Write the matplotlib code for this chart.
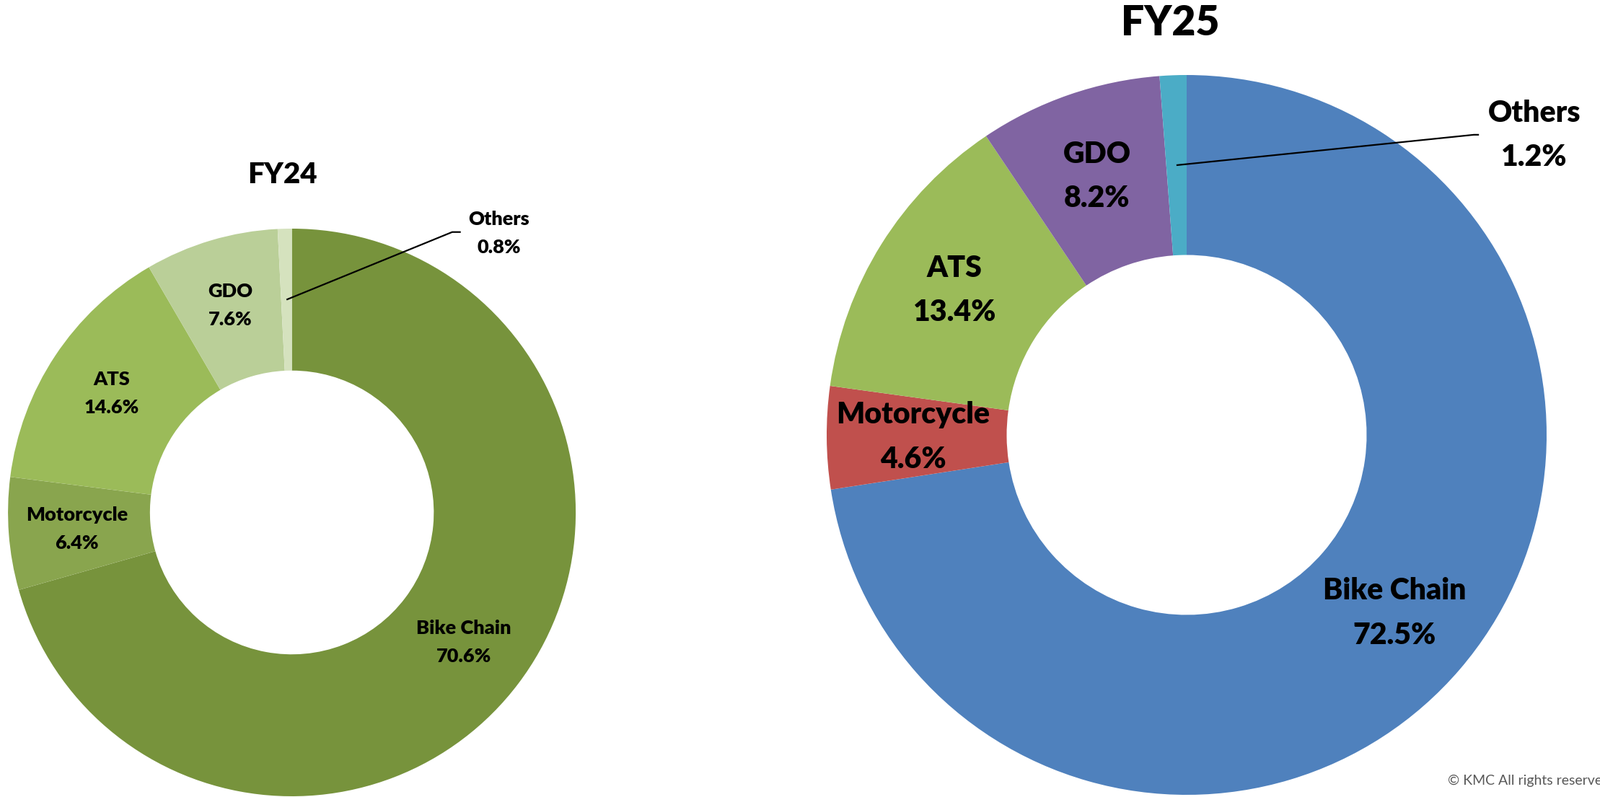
import numpy as np
import matplotlib
matplotlib.use("Agg")
import matplotlib.pyplot as plt

# ---------------- data ----------------
categories = ["Bike Chain", "Motorcycle", "ATS", "GDO", "Others"]
fy24_values = [70.6, 6.4, 14.6, 7.6, 0.8]
fy25_values = [72.5, 4.6, 13.4, 8.2, 1.2]
fy24_title = "FY24"
fy25_title = "FY25"
copyright_text = "\u00a9 KMC All rights reserved"

fy24_colors = ["#77933C", "#89A54E", "#9BBB59", "#BACF98", "#D5E2BE"]
fy25_colors = ["#4F81BD", "#C0504D", "#9BBB59", "#8064A2", "#4BACC6"]

FONT = ["Lato", "DejaVu Sans"]
WEIGHT = "heavy"
W, H = 2218, 1105

fig = plt.figure(figsize=(W / 100, H / 100), dpi=100)
ax = fig.add_axes([0, 0, 1, 1])


def donut(values, colors, center, radius, title, title_xy, title_size,
          label_size, leader_elbow, leader_end, leader_label, lsp):
    cx, cy = center
    ax.pie(values, colors=colors, startangle=90, counterclock=False,
           center=center, radius=radius,
           wedgeprops=dict(width=radius * 0.5, linewidth=0, antialiased=True))
    total = float(sum(values))
    cum = 0.0
    for name, v in zip(categories, values):
        mid = 90 - (cum + v / 2) / total * 360
        cum += v
        th = np.deg2rad(mid)
        txt = f"{name}\n{v:.1f}%"
        if name == "Others":
            sx = cx + 0.75 * radius * np.cos(th)
            sy = cy + 0.75 * radius * np.sin(th)
            ex = cx + leader_elbow[0] * radius
            ey = cy + leader_elbow[1] * radius
            fx = cx + leader_end[0] * radius
            ax.plot([sx, ex, fx], [sy, ey, ey], color="black", lw=1.6,
                    solid_capstyle="butt")
            ax.text(cx + leader_label[0] * radius, cy + leader_label[1] * radius,
                    txt, ha="center", va="center", multialignment="center",
                    fontsize=label_size, fontweight=WEIGHT, family=FONT,
                    linespacing=lsp)
        else:
            ax.text(cx + 0.76 * radius * np.cos(th), cy + 0.76 * radius * np.sin(th),
                    txt, ha="center", va="center", multialignment="center",
                    fontsize=label_size, fontweight=WEIGHT, family=FONT,
                    linespacing=lsp)
    ax.text(title_xy[0], title_xy[1], title, ha="center", va="center",
            fontsize=title_size, fontweight=WEIGHT, family=FONT)


donut(fy24_values, fy24_colors, center=(404.6, H - 710.5), radius=393.5,
      title=fy24_title, title_xy=(391, H - 243), title_size=29,
      label_size=19.5, leader_elbow=(0.565, 0.988), leader_end=(0.595, 0.988),
      leader_label=(0.73, 0.983), lsp=1.75)

donut(fy25_values, fy25_colors, center=(1645, H - 603), radius=499,
      title=fy25_title, title_xy=(1622, H - 32), title_size=41,
      label_size=29.5, leader_elbow=(0.798, 0.834), leader_end=(0.812, 0.834),
      leader_label=(0.966, 0.832), lsp=1.75)

ax.text(2007, H - 1082, copyright_text, ha="left", va="center",
        fontsize=14, color="#595959", family=FONT)

ax.set_xlim(0, W)
ax.set_ylim(0, H)
ax.set_aspect("equal")
ax.axis("off")

fig.savefig("out.png", dpi=100, facecolor="white")
